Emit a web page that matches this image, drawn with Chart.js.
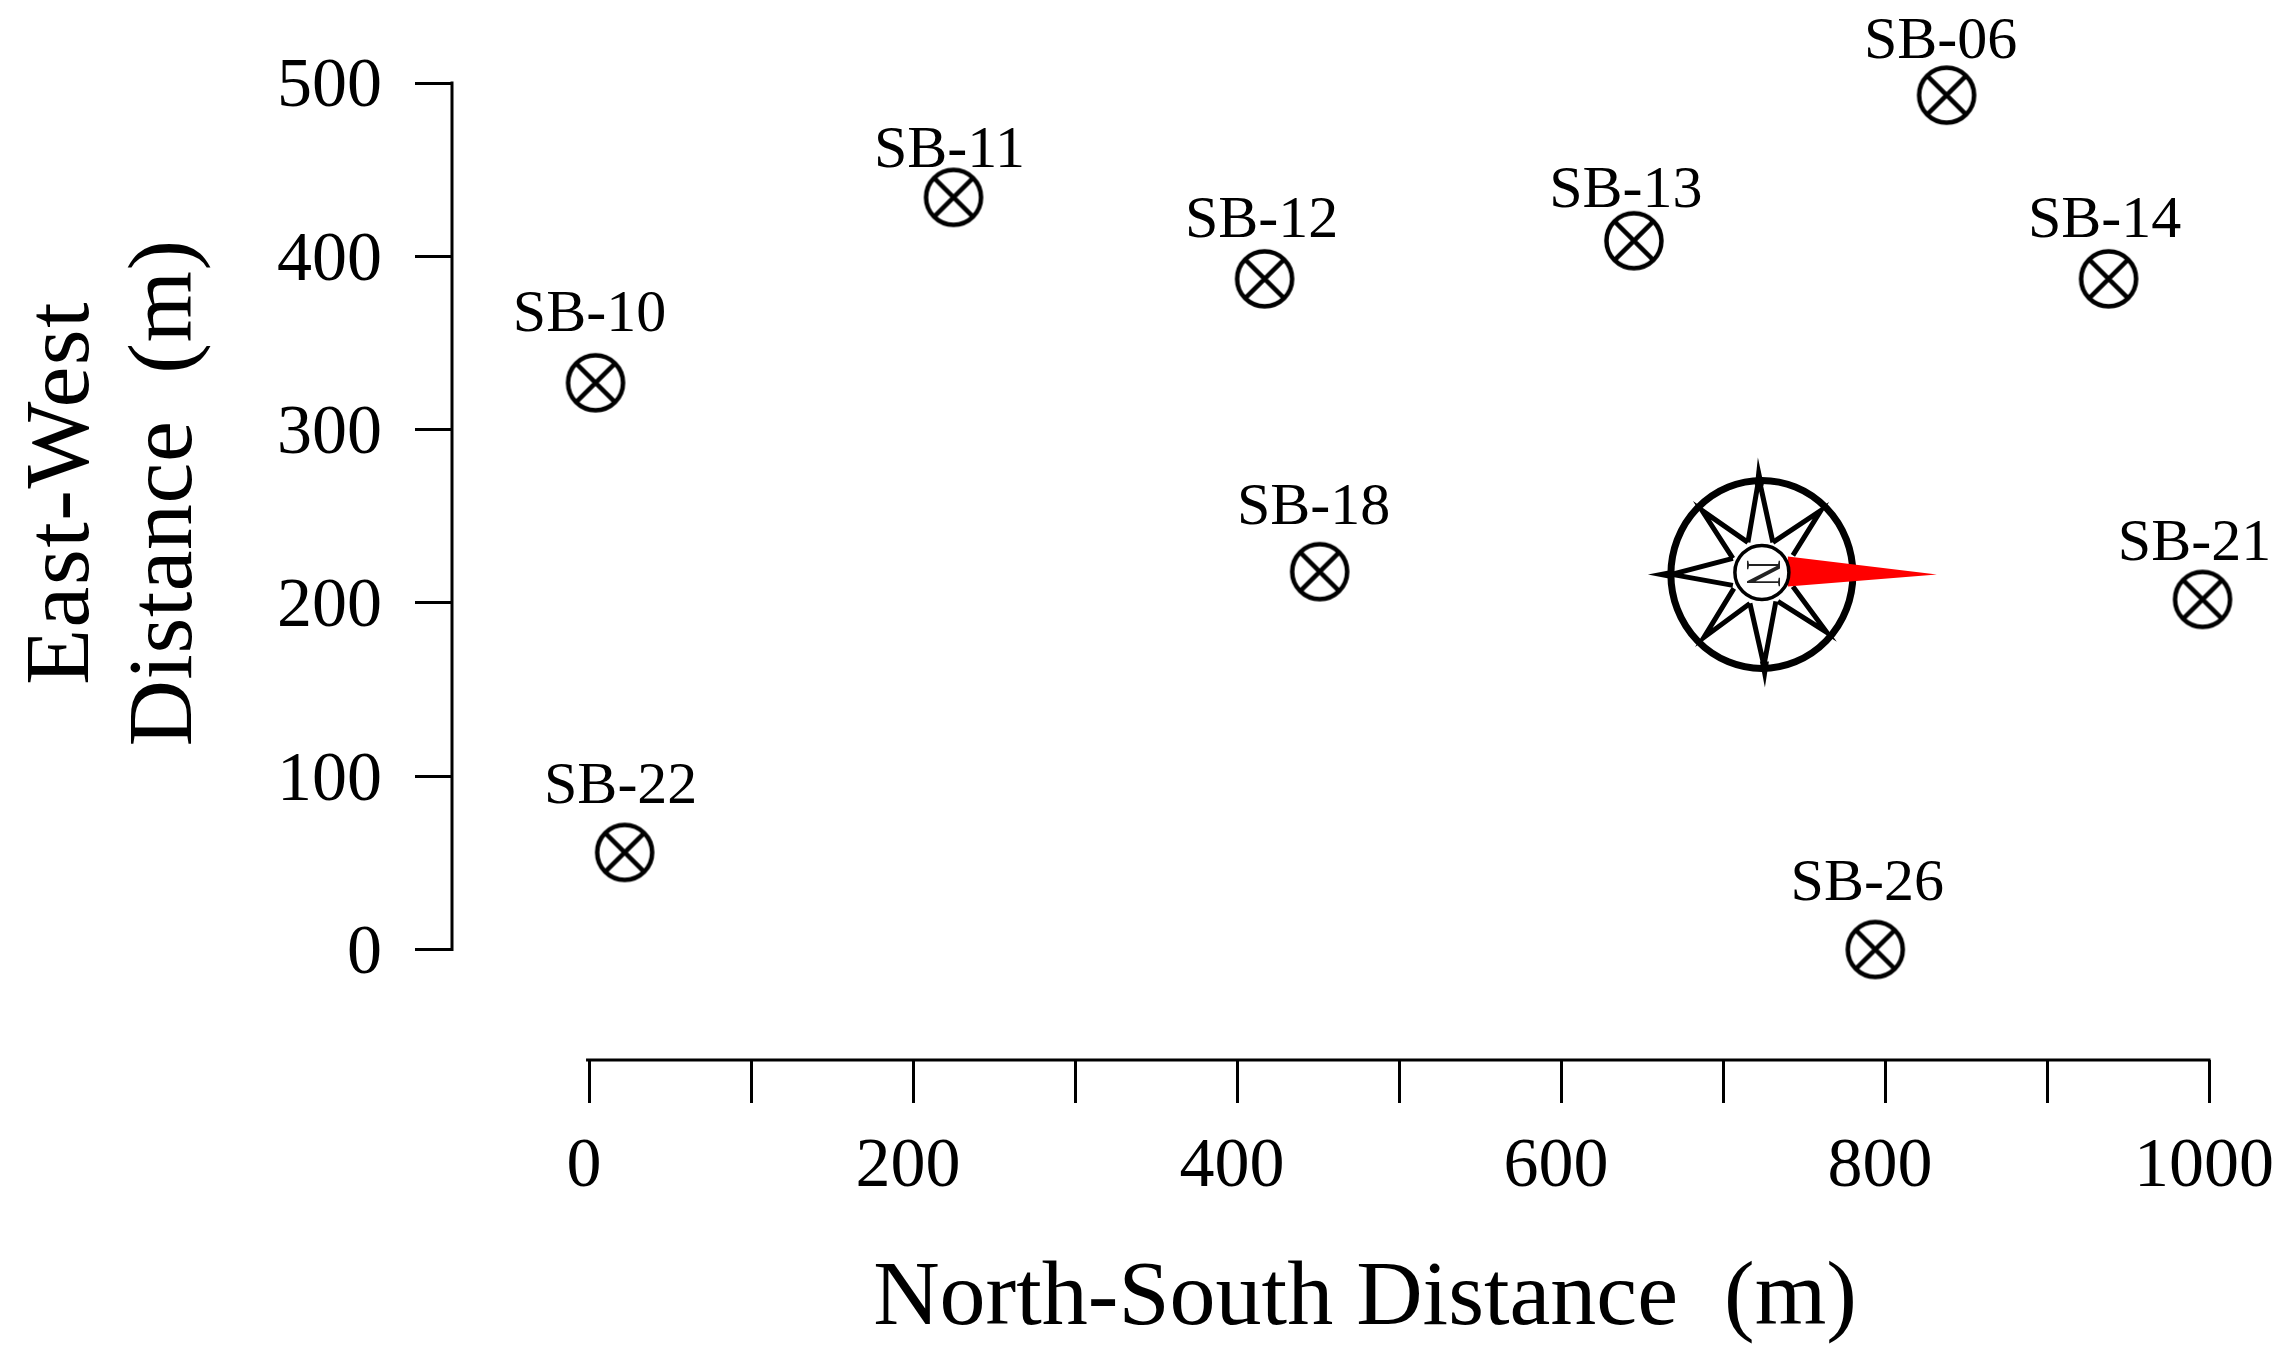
<!DOCTYPE html>
<html>
<head>
<meta charset="utf-8">
<title>Sampling locations</title>
<script src="https://cdn.jsdelivr.net/npm/chart.js@4"></script>
<style>
  body { margin: 0; background: #fff; }
  canvas { display: block; }
</style>
</head>
<body>
<canvas id="chart" width="2280" height="1358"></canvas>
<script>
/* ---------------- DATA ---------------- */
const siteNames = ["SB-06", "SB-10", "SB-11", "SB-12", "SB-13", "SB-14", "SB-18", "SB-21", "SB-22", "SB-26"];
const northSouth = [838, 4, 225, 417, 645, 938, 451, 996, 22, 794];
const eastWest = [493, 327, 434, 387, 409, 387, 218, 202, 56, 0];

const xTicks = [0, 100, 200, 300, 400, 500, 600, 700, 800, 900, 1000];
const xTickLabels = ["0", "", "200", "", "400", "", "600", "", "800", "", "1000"];
const yTicks = [0, 100, 200, 300, 400, 500];

const xTitle = "North-South Distance  (m)";
const yTitleLines = ["East-West", "Distance  (m)"];
const compassAt = [724, 217];

/* ---------------- STYLE ---------------- */
const FONT = '"Liberation Serif"';
const INK = "#000";
// label shift from its marker, px
const labelOffsets = [[-6, -53], [-6, -68], [-4, -46], [-3, -58], [-8, -49], [-4, -58], [-6, -63], [-8, -55], [-4, -65], [-8, -65]];

/* ---------------- MARKER ---------------- */
function makeMarker() {
  const c = document.createElement("canvas");
  c.width = c.height = 64;
  const g = c.getContext("2d");
  const r = 27.5, m = 32, d = r * Math.SQRT1_2;
  g.strokeStyle = INK;
  g.lineWidth = 4.5;
  g.beginPath();
  g.arc(m, m, r, 0, Math.PI * 2);
  g.moveTo(m - d, m - d);
  g.lineTo(m + d, m + d);
  g.moveTo(m + d, m - d);
  g.lineTo(m - d, m + d);
  g.stroke();
  return c;
}

/* ---------------- COMPASS ---------------- */
function drawCompass(ctx, cx, cy) {
  ctx.save();
  ctx.translate(cx, cy);

  // thin outer spikes
  ctx.fillStyle = INK;
  [[[-4, -116], [-7, -88], [2, -88]], [[3, 114], [-2, 88], [7, 88]], [[-114, 1], [-88, -4], [-88, 6]]].forEach((p) => {
    ctx.beginPath();
    ctx.moveTo(p[0][0], p[0][1]);
    ctx.lineTo(p[1][0], p[1][1]);
    ctx.lineTo(p[2][0], p[2][1]);
    ctx.fill();
  });

  // star
  const star = [
    [[-14, -31], [-3, -95], [11, -31]],
    [[11, -31], [59, -63], [31, -18]],
    [[31, 13], [65, 59], [16, 28]],
    [[14, 28], [2, 92], [-12, 30]],
    [[-12, 30], [-58, 64], [-28, 15]],
    [[-29, 12], [-90, 1], [-29, -15]],
    [[-29, -15], [-60, -63], [-14, -31]]
  ];
  ctx.strokeStyle = INK;
  ctx.lineWidth = 5;
  star.forEach((p) => {
    ctx.beginPath();
    ctx.moveTo(p[0][0], p[0][1]);
    ctx.lineTo(p[1][0], p[1][1]);
    ctx.lineTo(p[2][0], p[2][1]);
    ctx.stroke();
  });

  // ring
  ctx.lineWidth = 7;
  ctx.beginPath();
  ctx.ellipse(0, 1, 91, 94, 0, 0, Math.PI * 2);
  ctx.stroke();

  // red needle
  ctx.fillStyle = "#ff0000";
  ctx.beginPath();
  ctx.moveTo(26, -17);
  ctx.lineTo(175, 1);
  ctx.lineTo(26, 13);
  ctx.fill();

  // hub with the N lying on its side
  ctx.fillStyle = "#fff";
  ctx.lineWidth = 3.5;
  ctx.beginPath();
  ctx.arc(0, -1, 27, 0, Math.PI * 2);
  ctx.fill();
  ctx.stroke();
  ctx.rotate(Math.PI / 2);
  ctx.scale(1, 1.35);
  ctx.fillStyle = "#222";
  ctx.font = "38px " + FONT;
  ctx.textAlign = "center";
  ctx.textBaseline = "middle";
  ctx.fillText("N", 0, 1);
  ctx.restore();
}

/* ---------------- PLUGIN: axis lines, labels, titles, compass ---------------- */
const annotate = {
  id: "annotate",
  beforeDatasetsDraw(chart) {
    const { ctx, chartArea, scales: { x, y } } = chart;
    ctx.save();
    ctx.strokeStyle = INK;
    ctx.lineWidth = 3;
    ctx.beginPath();
    ctx.moveTo(chartArea.left, y.getPixelForValue(500) - 1.5);
    ctx.lineTo(chartArea.left, y.getPixelForValue(0) + 1.5);
    ctx.moveTo(x.getPixelForValue(0) - 3, chartArea.bottom);
    ctx.lineTo(x.getPixelForValue(1000) + 1.5, chartArea.bottom);
    ctx.stroke();
    ctx.restore();

    drawCompass(ctx, x.getPixelForValue(compassAt[0]), y.getPixelForValue(compassAt[1]));
  },
  afterDatasetsDraw(chart) {
    const { ctx, scales: { x, y } } = chart;
    ctx.save();
    ctx.fillStyle = INK;
    ctx.textAlign = "center";
    ctx.textBaseline = "middle";

    ctx.font = "60px " + FONT;
    siteNames.forEach((name, i) => {
      ctx.fillText(name, x.getPixelForValue(northSouth[i]) + labelOffsets[i][0], y.getPixelForValue(eastWest[i]) + labelOffsets[i][1]);
    });

    ctx.font = "92px " + FONT;
    ctx.fillText(xTitle, 1365, 1300);
    ctx.translate(64, 493);
    ctx.rotate(-Math.PI / 2);
    ctx.letterSpacing = "1.5px";
    ctx.fillText(yTitleLines[0], 0, 0);
    ctx.letterSpacing = "0.5px";
    ctx.fillText(yTitleLines[1], 0, 103);
    ctx.restore();
  }
};

/* ---------------- CHART ---------------- */
new Chart(document.getElementById("chart"), {
  type: "scatter",
  data: {
    datasets: [{
      label: "Sites",
      data: northSouth.map((v, i) => ({ x: v, y: eastWest[i] })),
      pointStyle: makeMarker(),
      clip: false
    }]
  },
  options: {
    responsive: false,
    animation: false,
    devicePixelRatio: 1,
    layout: { padding: { top: 83, right: 71 } },
    plugins: { legend: { display: false }, tooltip: { enabled: false } },
    scales: {
      x: {
        type: "linear",
        min: -84.6,
        max: 1000,
        afterFit(scale) {
          scale.height = 298;
          scale.paddingLeft = 0;
          scale.paddingRight = 0;
        },
        afterBuildTicks(scale) { scale.ticks = xTicks.map((value) => ({ value })); },
        border: { display: false },
        grid: { drawOnChartArea: false, tickLength: 43, tickWidth: 3, tickColor: INK },
        ticks: {
          autoSkip: false,
          maxRotation: 0,
          padding: 23,
          labelOffset: -5,
          color: INK,
          font: { family: FONT, size: 70 },
          callback: (value) => xTickLabels[xTicks.indexOf(value)]
        }
      },
      y: {
        type: "linear",
        min: -63.8,
        max: 500,
        afterFit(scale) {
          scale.width = 452;
          scale.paddingTop = 0;
          scale.paddingBottom = 0;
        },
        afterBuildTicks(scale) { scale.ticks = yTicks.map((value) => ({ value })); },
        border: { display: false },
        grid: { drawOnChartArea: false, tickLength: 37, tickWidth: 3, tickColor: INK },
        ticks: {
          padding: 33,
          labelOffset: 5,
          color: INK,
          font: { family: FONT, size: 70 }
        }
      }
    }
  },
  plugins: [annotate]
});
</script>
</body>
</html>
